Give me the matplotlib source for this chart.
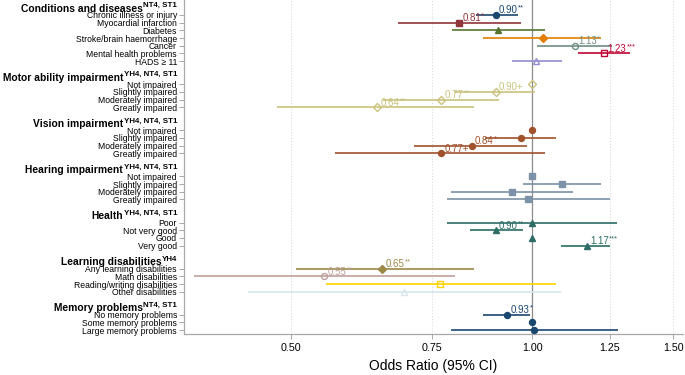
import numpy as np
import matplotlib

matplotlib.use('Agg')

import matplotlib.pyplot as plt
import matplotlib.transforms as mtransforms

plt.rcParams['font.family'] = ['Liberation Sans', 'DejaVu Sans']

# Groups of variables, with the superscript notes behind each heading
group_names = ['Conditions and diseases', 'Motor ability impairment', 'Vision impairment',
               'Hearing impairment', 'Health', 'Learning disabilities', 'Memory problems']
group_notes = ['NT4, ST1', 'YH4, NT4, ST1', 'YH4, NT4, ST1', 'YH4, NT4, ST1',
               'YH4, NT4, ST1', 'YH4', 'NT4, ST1']

item_labels = [
    ['Chronic illness or injury', 'Myocardial infarction', 'Diabetes', 'Stroke/brain haemorrhage',
     'Cancer', 'Mental health problems', 'HADS \u2265 11'],
    ['Not impaired', 'Slightly impaired', 'Moderately impaired', 'Greatly impaired'],
    ['Not impaired', 'Slightly impaired', 'Moderately impaired', 'Greatly impaired'],
    ['Not impaired', 'Slightly impaired', 'Moderately impaired', 'Greatly impaired'],
    ['Poor', 'Not very good', 'Good', 'Very good'],
    ['Any learning disabilities', 'Math disabilities', 'Reading/writing disabilities', 'Other disabilities'],
    ['No memory problems', 'Some memory problems', 'Large memory problems'],
]

# odds ratios and 95% CI (nan = reference category)
odds_ratio = [
    [0.90, 0.81, 0.906, 1.03, 1.13, 1.23, 1.012],
    [1.00, 0.90, 0.77, 0.64],
    [1.00, 0.967, 0.84, 0.77],
    [1.00, 1.089, 0.942, 0.989],
    [0.998, 0.90, 1.00, 1.17],
    [0.65, 0.55, 0.768, 0.692],
    [0.93, 1.00, 1.006],
]
ci_lower = [
    [0.85, 0.68, 0.795, 0.869, 1.015, 1.139, 0.942],
    [np.nan, 0.798, 0.651, 0.48],
    [np.nan, 0.874, 0.712, 0.568],
    [np.nan, 0.974, 0.792, 0.783],
    [0.783, 0.837, np.nan, 1.086],
    [0.507, 0.378, 0.552, 0.442],
    [0.868, np.nan, 0.792],
]
ci_upper = [
    [0.96, 0.967, 1.036, 1.22, 1.258, 1.324, 1.088],
    [np.nan, 1.007, 0.91, 0.846],
    [np.nan, 1.071, 0.984, 1.036],
    [np.nan, 1.219, 1.123, 1.25],
    [1.276, 0.974, np.nan, 1.251],
    [0.846, 0.80, 1.07, 1.086],
    [0.992, np.nan, 1.279],
]
signif = [
    ['**', '*', '', '', '*', '***', ''],
    ['', '+', '**', '**'],
    ['', '', '*', '+'],
    ['', '', '', ''],
    ['', '**', '', '***'],
    ['**', '**', '', ''],
    ['*', '', ''],
]

# Stata s2color palette and marker cycle (15 series, then it starts again)
colors = ['#1a476f', '#90353b', '#55752f', '#e37e00', '#6e8e84', '#c10534', '#938dd2', '#cac27e',
          '#a0522d', '#7b92a8', '#2d6d66', '#9c8847', '#bfa19c', '#ffd200', '#d9e6eb']
markers = [('o', True), ('s', True), ('^', True), ('D', True),
           ('o', False), ('s', False), ('^', False), ('D', False),
           ('o', True), ('s', True), ('^', True), ('D', True),
           ('o', False), ('s', False), ('^', False)]
# groups where every item is a separate series
split_series = [True, False, False, False, False, True, False]

fig = plt.figure(figsize=(6.85, 3.75), dpi=100)
ax = fig.add_axes([184 / 685, 41 / 375, 499 / 685, 334 / 375])

ticks, ticklabels = [], []
first_rows = []
row = 0
series = 0
for g, items in enumerate(item_labels):
    if g > 0:
        row += 2
    first_rows.append(row)
    for k, lab in enumerate(items):
        c = colors[series % 15]
        m, filled = markers[series % 15]
        o = odds_ratio[g][k]
        lo, hi = ci_lower[g][k], ci_upper[g][k]
        if not np.isnan(lo):
            ax.plot([lo, hi], [row, row], color=c, lw=1.2, solid_capstyle='butt', zorder=3)
        ms = 4.3 if m != 'D' else 3.7
        ax.plot(o, row, marker=m, ms=ms, color=c, mfc=c if filled else 'none', mew=1.0,
                linestyle='none', zorder=4)
        s = signif[g][k]
        if s:
            plus = '+' if s == '+' else ''
            num = ax.annotate('%.2f' % o + plus, xy=(o, row), xytext=(2.4, 3.4),
                              textcoords='offset points', ha='left', va='center',
                              fontsize=7, color=c, zorder=5)
            if s != '+':
                ax.annotate(s, xy=(1, 1), xycoords=num, xytext=(0.2, 0.4),
                            textcoords='offset points', ha='left', va='top',
                            fontsize=5.4, color=c, zorder=5)
        ticks.append(row)
        ticklabels.append(lab)
        row += 1
        if split_series[g]:
            series += 1
    if not split_series[g]:
        series += 1

ax.set_xscale('log')
ax.set_xlim(0.3675, 1.542)
ax.set_ylim(41.5, -1.95)
ax.set_xticks([0.5, 0.75, 1.0, 1.25, 1.5])
ax.set_xticklabels(['0.50', '0.75', '1.00', '1.25', '1.50'])
ax.xaxis.set_minor_locator(matplotlib.ticker.NullLocator())
ax.set_yticks(ticks)
ax.set_yticklabels(ticklabels)

for t in [0.5, 0.75, 1.25, 1.5]:
    ax.axvline(t, color='#d4d4d4', lw=0.7, ls=(0, (1, 2)), zorder=1)
ax.axvline(1.0, color='#8c8c8c', lw=0.9, zorder=2)

for sp in ['top', 'right']:
    ax.spines[sp].set_visible(False)
for sp in ['left', 'bottom']:
    ax.spines[sp].set_color('#a8a8a8')
    ax.spines[sp].set_linewidth(0.9)
ax.tick_params(axis='y', length=3.6, width=0.7, color='#a8a8a8', pad=1.5, labelsize=6.2)
ax.tick_params(axis='x', length=3.6, width=0.7, color='#a8a8a8', pad=3, labelsize=7.7)
ax.set_xlabel('Odds Ratio (95% CI)', fontsize=10, labelpad=4)

# group headings with superscript notes, right aligned next to the tick labels
trans = mtransforms.blended_transform_factory(fig.transFigure, ax.transData)
for name, note, fr in zip(group_names, group_notes, first_rows):
    sup = ax.text(177 / 685, fr - 1.02, note, transform=trans, ha='right', va='baseline',
                  fontsize=5.7, weight='bold', color='black')
    ax.annotate(name, xy=(0, fr - 0.44), xycoords=(sup, 'data'), xytext=(-0.3, 0),
                textcoords='offset points', ha='right', va='baseline',
                fontsize=7.4, weight='bold', color='black')

plt.savefig('out.png', dpi=100)
